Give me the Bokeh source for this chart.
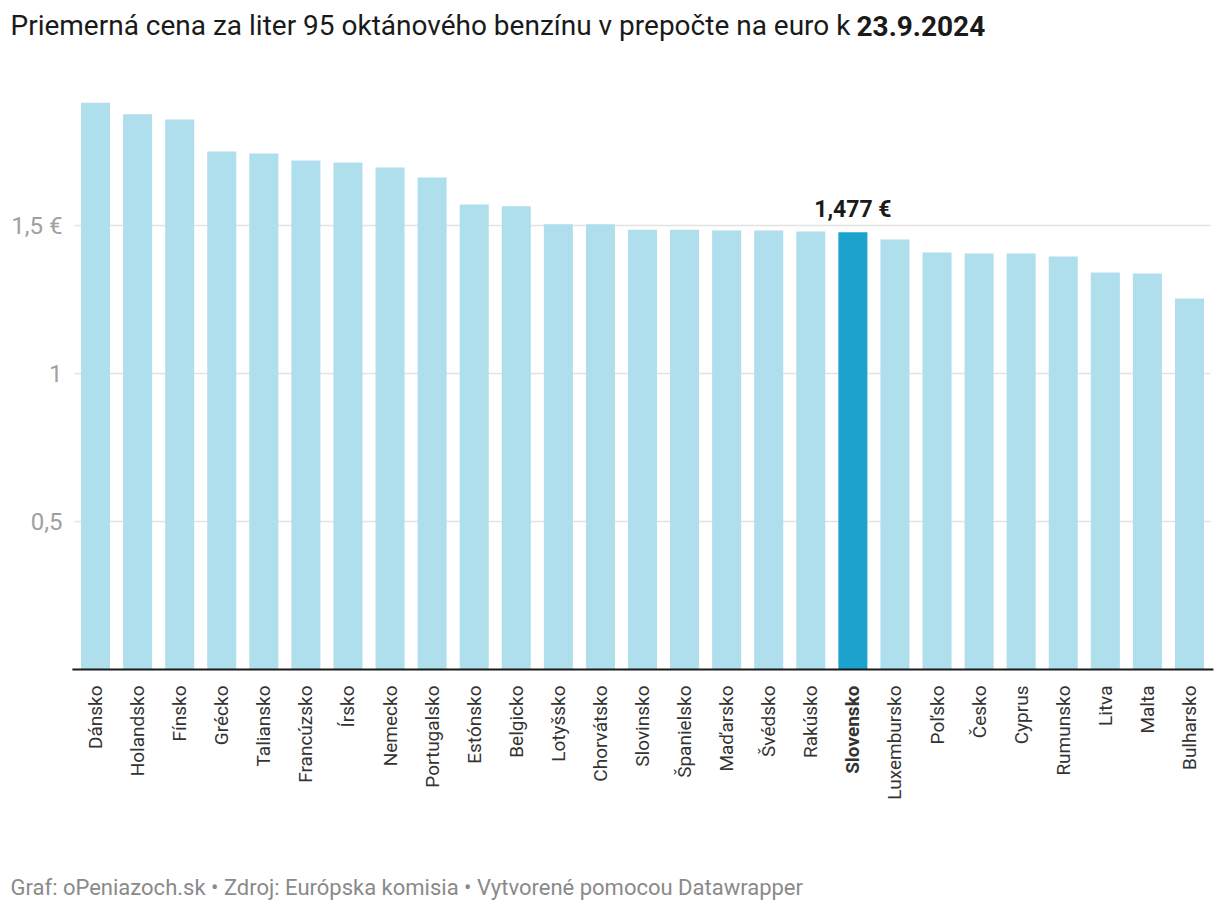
import math
from bokeh.plotting import figure
from bokeh.models import Range1d, Label, ColumnDataSource
from bokeh.core.properties import value, field
from bokeh.embed import file_html
from bokeh.resources import INLINE

# ---------------- data ----------------
countries = ["Dánsko", "Holandsko", "Fínsko", "Grécko", "Taliansko", "Francúzsko",
             "Írsko", "Nemecko", "Portugalsko", "Estónsko", "Belgicko", "Lotyšsko",
             "Chorvátsko", "Slovinsko", "Španielsko", "Maďarsko", "Švédsko", "Rakúsko",
             "Slovensko", "Luxembursko", "Poľsko", "Česko", "Cyprus", "Rumunsko",
             "Litva", "Malta", "Bulharsko"]
prices = [1.915, 1.876, 1.858, 1.750, 1.743, 1.720, 1.713, 1.696, 1.662, 1.571,
          1.565, 1.504, 1.504, 1.486, 1.486, 1.483, 1.483, 1.480, 1.477, 1.453,
          1.409, 1.405, 1.405, 1.395, 1.341, 1.338, 1.253]
highlight = "Slovensko"
y_ticks = [0.5, 1, 1.5]
y_tick_labels = ["0,5", "1", "1,5 €"]
title_text = "Priemerná cena za liter 95 oktánového benzínu v prepočte na euro k"
title_bold = "23.9.2024"
footer_text = "Graf: oPeniazoch.sk • Zdroj: Európska komisia • Vytvorené pomocou Datawrapper"

# ---------------- layout ----------------
W, H = 1218, 910
FONT = "Roboto"
ZERO_PX = 669.0        # canvas y of value 0
PX_PER_UNIT = 296.0    # vertical scale
PLOT_LEFT = 74.0       # canvas x where first category starts
CAT_PX = 42.074        # width of one category slot

n = len(countries)
xs = [i + 0.5 for i in range(n)]


def py(canvas_y):
    return (ZERO_PX - canvas_y) / PX_PER_UNIT


LIGHT = "#afdeec"
DARK = "#1ca3cd"

colors = [DARK if c == highlight else LIGHT for c in countries]
styles = ["bold" if c == highlight else "normal" for c in countries]
src = ColumnDataSource(dict(x=xs, country=countries, price=prices,
                            color=colors, fstyle=styles))

p = figure(width=W, height=H,
           x_range=Range1d(-PLOT_LEFT / CAT_PX, (W - PLOT_LEFT) / CAT_PX),
           y_range=Range1d(py(H), py(0)),
           output_backend="svg", toolbar_location=None,
           x_axis_location=None, y_axis_location=None,
           min_border_left=0, min_border_right=0,
           min_border_top=0, min_border_bottom=0)
p.outline_line_color = None
p.background_fill_color = "white"
p.border_fill_color = "white"
p.grid.visible = False

# horizontal grid lines
p.segment(x0=[0] * len(y_ticks), x1=[n] * len(y_ticks), y0=y_ticks, y1=y_ticks,
          line_color="#e3e3e3", line_width=1.5)

# y tick labels
p.text(x=[0] * len(y_ticks), y=y_ticks, text=y_tick_labels, x_offset=-12,
       text_align="right", text_baseline="middle",
       text_font=value(FONT), text_font_size="24px", text_color="#a0a0a0")

# bars
p.vbar(x="x", top="price", bottom=0, width=0.69, source=src,
       fill_color="color", line_color=None)

# baseline
p.segment(x0=[-0.05], x1=[n + 0.07], y0=[0], y1=[0],
          line_color="#1a1a1a", line_width=2)

# category labels
p.text(x="x", y=0, text="country", source=src, angle=math.pi / 2,
       text_align="right", text_baseline="middle", y_offset=16,
       text_font=value(FONT), text_font_size="19px", text_color="#333333",
       text_font_style=field("fstyle"))

# value annotation for highlighted bar
hi = countries.index(highlight)
hv = prices[hi]
hl_text = f"{hv:.3f}".replace(".", ",") + " €"
p.text(x=[xs[hi]], y=[hv], text=[hl_text], text_align="center",
       text_baseline="alphabetic", y_offset=-23,
       text_font=value(FONT), text_font_size="23px", text_font_style="bold",
       text_color="#1a1a1a")

# title & footer
p.add_layout(Label(x=10, y=py(25), x_units="screen", y_units="data",
                   text=title_text, text_font=FONT, text_font_size="28px",
                   text_color="#1a1a1a", text_baseline="alphabetic"))
p.add_layout(Label(x=856, y=py(25), x_units="screen", y_units="data",
                   text=title_bold, text_font=FONT, text_font_size="28px",
                   text_font_style="bold",
                   text_color="#1a1a1a", text_baseline="alphabetic"))
p.add_layout(Label(x=10, y=py(887), x_units="screen", y_units="data",
                   text=footer_text, text_font=FONT, text_font_size="22px",
                   text_color="#8a8a8a", text_baseline="alphabetic"))

open("out.html", "w").write(file_html(p, INLINE))
